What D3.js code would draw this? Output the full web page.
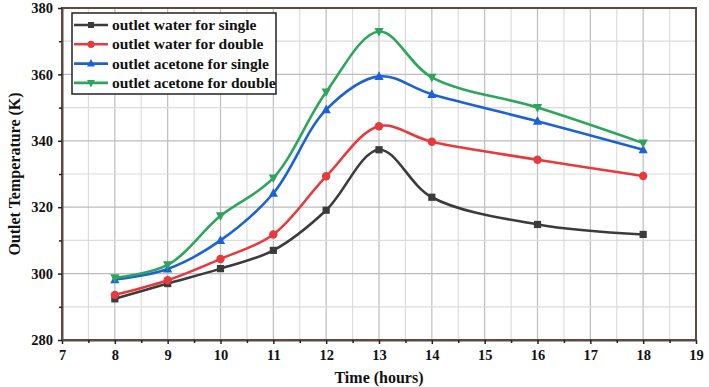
<!DOCTYPE html>
<html>
<head>
<meta charset="utf-8">
<script src="https://cdn.jsdelivr.net/npm/d3@7"></script>
<style>
  body { margin: 0; background: #fff; }
</style>
</head>
<body>
<svg id="chart" width="709" height="387"></svg>
<script>
'use strict';

var hours = [8, 9, 10, 11, 12, 13, 14, 16, 18]
,   waterSingle = [292.4, 297, 301.5, 307, 319.1, 337.3, 323, 314.8, 311.8]
,   waterDouble = [293.6, 298, 304.4, 311.8, 329.3, 344.4, 339.7, 334.3, 329.4]
,   acetoneSingle = [298.2, 301.4, 310, 324.2, 349.4, 359.4, 354, 345.9, 337.3]
,   acetoneDouble = [298.7, 302.6, 317.4, 328.8, 354.7, 372.9, 359.1, 350, 339.3]
,   xTicks = [7, 8, 9, 10, 11, 12, 13, 14, 15, 16, 17, 18, 19]
,   yTicks = [280, 300, 320, 340, 360, 380]

var series = [
  { name: 'outlet water for single', values: waterSingle, color: '#3b3b3b', marker: 'square' }
, { name: 'outlet water for double', values: waterDouble, color: '#e8393c', marker: 'circle' }
, { name: 'outlet acetone for single', values: acetoneSingle, color: '#1b63d5', marker: 'up' }
, { name: 'outlet acetone for double', values: acetoneDouble, color: '#2ea55c', marker: 'down' }
]

var FONT = 'Liberation Serif'

var margin = { left: 62, right: 13, top: 8, bottom: 47 }
,   width = 709
,   height = 387

var svg = d3.select('#chart')

var x = d3.scaleLinear().domain([7, 19]).range([margin.left, width - margin.right])
,   y = d3.scaleLinear().domain([280, 380]).range([height - margin.bottom, margin.top])

// grid
var grid = svg.append('g').attr('class', 'grid')

d3.range(7.5, 19, 0.5).forEach((h) => {
  grid.append('line')
    .attr('x1', x(h)).attr('x2', x(h))
    .attr('y1', y(280)).attr('y2', y(380))
    .attr('stroke', Number.isInteger(h) ? '#bdbdbd' : '#dcdcdc')
    .attr('stroke-width', 1.2)
})

d3.range(290, 380, 10).forEach((t) => {
  grid.append('line')
    .attr('x1', x(7)).attr('x2', x(19))
    .attr('y1', y(t)).attr('y2', y(t))
    .attr('stroke', t % 20 === 0 ? '#bdbdbd' : '#dcdcdc')
    .attr('stroke-width', 1.2)
})

// frame
svg.append('rect')
  .attr('x', x(7)).attr('y', y(380))
  .attr('width', x(19) - x(7)).attr('height', y(280) - y(380))
  .attr('fill', 'none')
  .attr('stroke', '#5b4a42')
  .attr('stroke-width', 2)

// axes
var xAxis = svg.append('g')
  .attr('transform', 'translate(0,' + y(280) + ')')
  .call(d3.axisBottom(x).tickValues(xTicks).tickFormat(d3.format('d')).tickSizeInner(4).tickSizeOuter(0).tickPadding(6))

svg.append('g')
  .attr('transform', 'translate(0,' + y(280) + ')')
  .call(d3.axisBottom(x).tickValues(d3.range(7.5, 19, 1)).tickFormat('').tickSizeInner(3).tickSizeOuter(0))
  .call((g) => g.select('.domain').remove())
  .selectAll('line').attr('stroke', '#222').attr('stroke-width', 1.5)

var yAxis = svg.append('g')
  .attr('transform', 'translate(' + x(7) + ',0)')
  .call(d3.axisLeft(y).tickValues(yTicks).tickSizeInner(4).tickSizeOuter(0).tickPadding(5))

svg.append('g')
  .attr('transform', 'translate(' + x(7) + ',0)')
  .call(d3.axisLeft(y).tickValues(d3.range(290, 380, 20)).tickFormat('').tickSizeInner(3).tickSizeOuter(0))
  .call((g) => g.select('.domain').remove())
  .selectAll('line').attr('stroke', '#222').attr('stroke-width', 1.5)

;[xAxis, yAxis].forEach((g) => {
  g.attr('font-family', FONT).attr('font-size', 14.5).attr('font-weight', 'bold')
  g.select('.domain').attr('stroke', '#5b4a42').attr('stroke-width', 2)
  g.selectAll('.tick line').attr('stroke', '#222').attr('stroke-width', 1.5)
  g.selectAll('.tick text').attr('fill', '#111')
})

// titles
svg.append('text')
  .attr('x', (x(7) + x(19)) / 2)
  .attr('y', 383)
  .attr('text-anchor', 'middle')
  .attr('font-family', FONT).attr('font-weight', 'bold').attr('font-size', 16)
  .attr('fill', '#111')
  .text('Time (hours)')

svg.append('text')
  .attr('transform', 'translate(20,' + ((y(280) + y(380)) / 2) + ') rotate(-90)')
  .attr('text-anchor', 'middle')
  .attr('font-family', FONT).attr('font-weight', 'bold').attr('font-size', 16)
  .attr('fill', '#111')
  .text('Outlet Temperature (K)')

// markers
function drawMarker(sel, type, color, size) {
  var s = size
  if (type === 'square') {
    sel.append('rect').attr('x', -s).attr('y', -s).attr('width', 2 * s).attr('height', 2 * s).attr('fill', color)
  } else if (type === 'circle') {
    sel.append('circle').attr('r', s + 0.6).attr('fill', color)
  } else if (type === 'up') {
    sel.append('path').attr('d', 'M0,' + (-s - 1.5) + 'L' + (s + 1) + ',' + (s) + 'L' + (-s - 1) + ',' + (s) + 'Z').attr('fill', color)
  } else {
    sel.append('path').attr('d', 'M0,' + (s + 1.5) + 'L' + (s + 1) + ',' + (-s) + 'L' + (-s - 1) + ',' + (-s) + 'Z').attr('fill', color)
  }
}

var line = d3.line()
  .x((d) => x(d[0]))
  .y((d) => y(d[1]))
  .curve(d3.curveCatmullRom.alpha(0.5))

series.forEach((s) => {
  var pts = hours.map((h, i) => [h, s.values[i]])
  svg.append('path')
    .datum(pts)
    .attr('d', line)
    .attr('fill', 'none')
    .attr('stroke', s.color)
    .attr('stroke-width', 2.6)

  pts.forEach((p) => {
    var g = svg.append('g').attr('transform', 'translate(' + x(p[0]) + ',' + y(p[1]) + ')')
    drawMarker(g, s.marker, s.color, 3.6)
  })
})

// legend
var legend = svg.append('g').attr('transform', 'translate(72,13)')

legend.append('rect')
  .attr('width', 204).attr('height', 81)
  .attr('fill', '#fff')
  .attr('stroke', '#222')
  .attr('stroke-width', 1.5)

series.forEach((s, i) => {
  var yy = 12 + i * 19.3
  var row = legend.append('g').attr('transform', 'translate(0,' + yy + ')')
  row.append('line')
    .attr('x1', 2).attr('x2', 36)
    .attr('stroke', s.color).attr('stroke-width', 2.6)
  drawMarker(row.append('g').attr('transform', 'translate(19,0)'), s.marker, s.color, 3)
  row.append('text')
    .attr('x', 40).attr('y', 5)
    .attr('font-family', FONT).attr('font-weight', 'bold').attr('font-size', 15.5)
    .attr('fill', '#111')
    .text(s.name)
})
</script>
</body>
</html>
